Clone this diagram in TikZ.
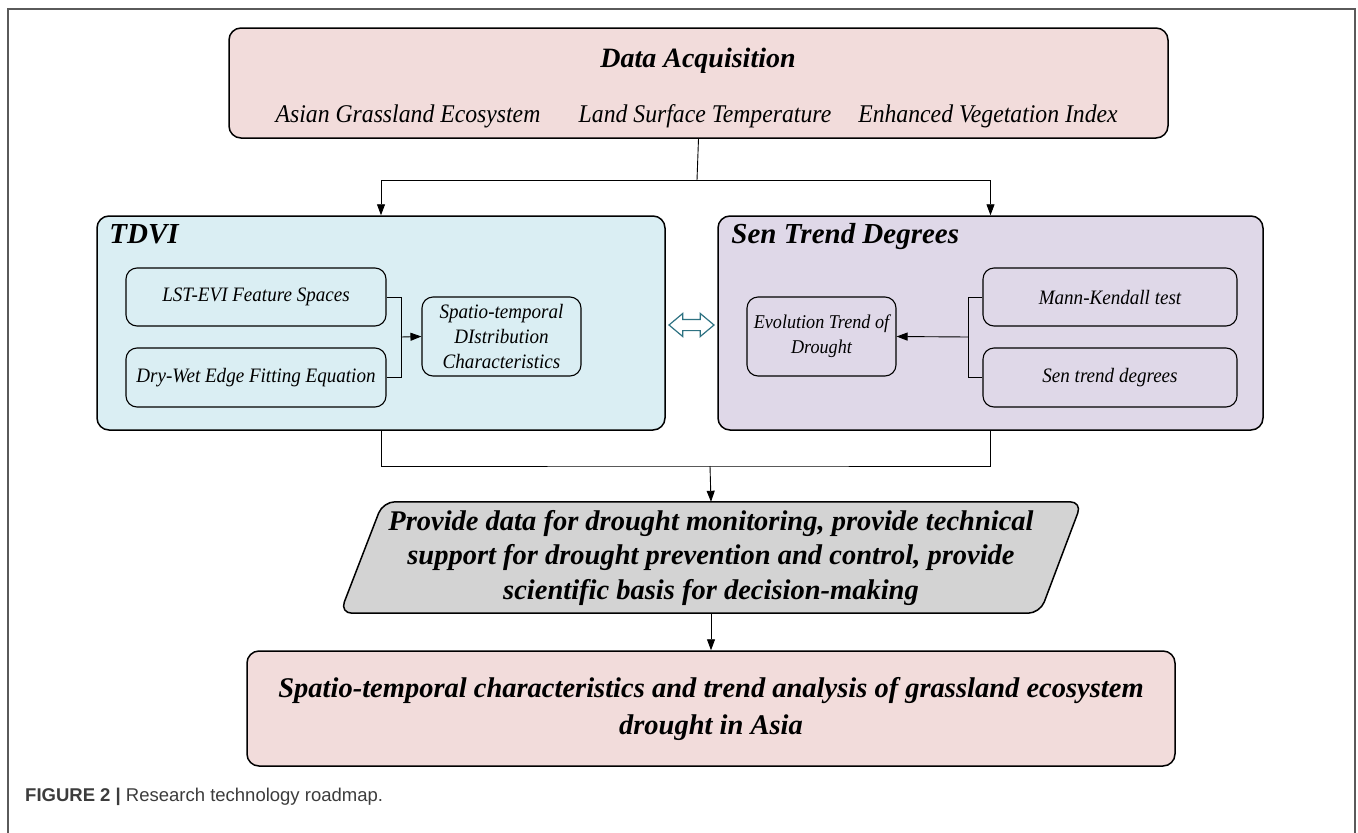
\documentclass[tikz,border=0pt]{standalone}
\usepackage{fontspec}
\setmainfont{Liberation Serif}
\setsansfont{Liberation Sans}
\newfontfamily\condserif[FakeStretch=0.93]{Liberation Serif}
\usetikzlibrary{calc,arrows.meta,shapes.arrows,backgrounds}

\definecolor{datapink}{HTML}{F2DCDB}
\definecolor{tdviblue}{HTML}{DAEEF3}
\definecolor{senlilac}{HTML}{DFD8E8}
\definecolor{basisgray}{HTML}{D3D3D3}
\definecolor{linkteal}{HTML}{2E7282}
\definecolor{framegray}{HTML}{5A5A5A}
\definecolor{capgray}{HTML}{3C3C3C}

\begin{document}
\begin{tikzpicture}[x=1pt,y=-1pt,
    box/.style={draw, line width=1.5pt, rounded corners=12pt, inner sep=0pt},
    subbox/.style={draw, line width=1.1pt, rounded corners=11pt, align=center, inner sep=0pt,
        font=\condserif\fontsize{20.5}{25}\selectfont\itshape},
    head/.style={font=\fontsize{29}{34}\selectfont\bfseries\itshape},
    item/.style={anchor=base, font=\condserif\fontsize{25.5}{30}\selectfont\itshape},
    claim/.style={align=center, font=\fontsize{28.5}{34.5}\selectfont\bfseries\itshape},
    link/.style={line width=0.9pt},
    arr/.style={link, -{Triangle[length=11pt,width=8pt]}}]

    \useasboundingbox (0,0) rectangle (1358,833);
    % page frame, open at the bottom
    \draw[framegray, line width=1.6pt] (8,833) -- (8,9) -- (1355,9) -- (1355,833);

    % data acquisition
    \node[box, fill=datapink, minimum width=939pt, minimum height=110pt] (data) at (698.5,83) {};
    \node[head, anchor=base, font=\fontsize{28}{34}\selectfont\bfseries\itshape] (datahead) at (698,67) {Data Acquisition};
    \node[item] (ageco) at (408,122) {Asian Grassland Ecosystem};
    \node[item] (lstemp) at (705,122) {Land Surface Temperature};
    \node[item] (evindex) at (988,122) {Enhanced Vegetation Index};

    % the two methods
    \node[box, fill=tdviblue, minimum width=568pt, minimum height=214pt] (tdvi) at (381,323) {};
    \node[head, anchor=base west, inner sep=0pt] (tdvihead) at ([shift={(13pt,-28pt)}]tdvi.north west) {TDVI};
    \node[box, fill=senlilac, minimum width=545pt, minimum height=214pt] (sen) at (990.5,323) {};
    \node[head, anchor=base west, inner sep=0pt] (senhead) at ([shift={(14pt,-28pt)}]sen.north west) {Sen Trend Degrees};

    \coordinate (split) at (697,180);
    \draw[link] (data.south) -- (split);
    \draw[arr] (split) -| (tdvi.north);
    \draw[arr] (split) -| (sen.north);

    % inside TDVI
    \node[subbox, minimum width=260pt, minimum height=58pt] (lst) at (256,297) {LST-EVI Feature Spaces};
    \node[subbox, minimum width=260pt, minimum height=59pt] (dwe) at (256,377.5) {Dry-Wet Edge Fitting Equation};
    \node[subbox, minimum width=159pt, minimum height=79pt] (stdc) at (501.5,336.5)
        {Spatio-temporal\\DIstribution\\Characteristics};
    \coordinate (tjoin) at (401,337);
    \draw[link] (lst.east) -| (tjoin);
    \draw[link] (dwe.east) -| (tjoin);
    \draw[arr] (tjoin) -- (stdc.west);

    % inside Sen trend degrees
    \node[subbox, minimum width=149pt, minimum height=79pt, font=\condserif\fontsize{19.5}{25}\selectfont\itshape] (etd)
        at (821.5,336.5) {Evolution Trend of\\Drought};
    \node[subbox, minimum width=254pt, minimum height=58pt] (mk) at (1110,297) {Mann-Kendall test};
    \node[subbox, minimum width=254pt, minimum height=59pt] (std) at (1110,377.5) {Sen trend degrees};
    \coordinate (sjoin) at (968,337);
    \draw[link] (mk.west) -| (sjoin);
    \draw[link] (std.west) -| (sjoin);
    \draw[arr] (sjoin) -- (etd.east);

    % two-way link between the methods
    \node[double arrow, draw=linkteal, fill=white, line width=1.2pt, inner xsep=0pt, inner ysep=5pt,
        minimum height=45pt, double arrow head extend=6pt, double arrow tip angle=80] (twoway)
        at ($(tdvi.east)!0.5!(sen.west)+(0,2)$) {};

    % outcome (parallelogram drawn behind the text node)
    \node[claim, minimum width=658pt, minimum height=111pt, inner sep=0pt] (basis) at (711,557.5)
        {Provide data for drought monitoring, provide technical\\
        support for drought prevention and control, provide\\scientific basis for decision-making};
    \begin{scope}[on background layer]
        \draw[line width=1.5pt, rounded corners=12pt, fill=basisgray]
            ([xshift=-371pt]basis.south) -- ([xshift=-328pt]basis.north) --
            ([xshift=371pt]basis.north) -- ([xshift=329pt]basis.south) -- cycle;
    \end{scope}

    \coordinate (merge) at (710,466);
    \draw[link] (tdvi.south) |- (merge) -| (sen.south);
    \draw[arr] (merge) -- (basis.north);

    \node[box, fill=datapink, minimum width=928pt, minimum height=115pt] (result) at (711,708.5) {};
    \node[claim, font=\fontsize{28.5}{37}\selectfont\bfseries\itshape] (resulttext) at (result.center)
        {Spatio-temporal characteristics and trend analysis of grassland ecosystem\\drought in Asia};
    \draw[arr] (basis.south) -- (result.north);

    % caption
    \node[anchor=base west, text=capgray, inner sep=0pt, font=\sffamily\fontsize{18.5}{22}\selectfont] (caption)
        at (25,801) {\textbf{FIGURE 2} \textbf{|} Research technology roadmap.};
\end{tikzpicture}
\end{document}
